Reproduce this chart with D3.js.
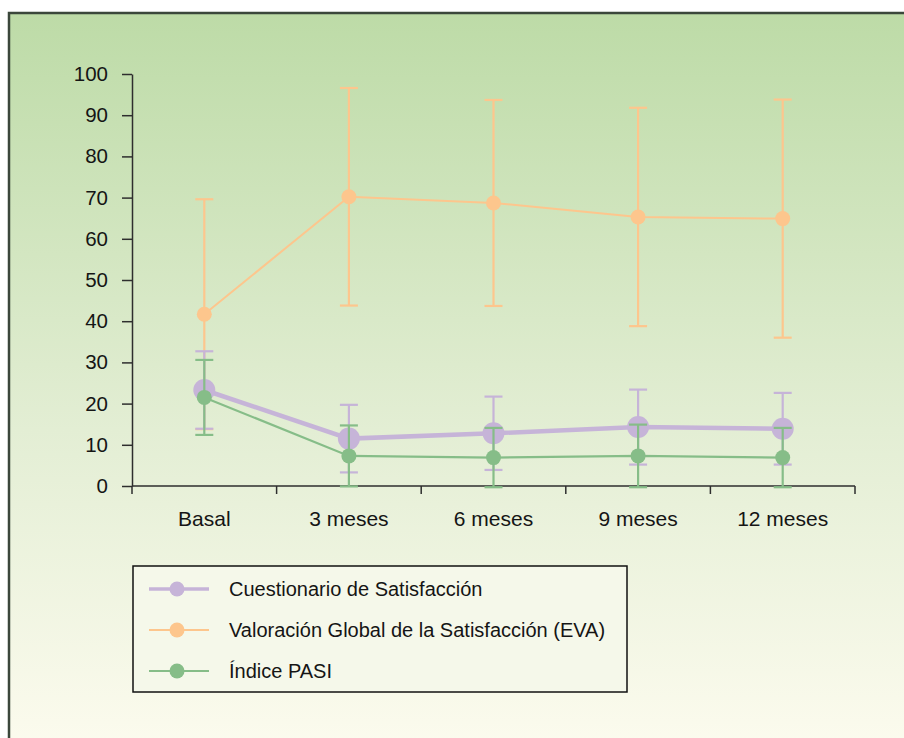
<!DOCTYPE html>
<html>
<head>
<meta charset="utf-8">
<script src="https://cdn.jsdelivr.net/npm/d3@7"></script>
<style>
  body { margin: 0; background: #fff; }
  text { font-family: "Liberation Sans", Arial, Helvetica, sans-serif; fill: #151515; }
</style>
</head>
<body>
<div id="chart"></div>
<script>
const categories = ["Basal", "3 meses", "6 meses", "9 meses", "12 meses"];
const yTicks = [0, 10, 20, 30, 40, 50, 60, 70, 80, 90, 100];

// mean and error (+/-) for each series
const cuestMean = [23.3, 11.5, 12.8, 14.3, 13.9];
const cuestErr  = [9.4, 8.2, 8.9, 9.1, 8.7];
const evaMean   = [41.7, 70.2, 68.7, 65.3, 64.9];
const evaErr    = [27.9, 26.4, 25.0, 26.5, 28.9];
const pasiMean  = [21.5, 7.3, 6.9, 7.3, 6.9];
const pasiErr   = [9.1, 7.4, 7.2, 7.6, 7.2];

const seriesNames = [
    "Cuestionario de Satisfacción",
    "Valoración Global de la Satisfacción (EVA)",
    "Índice PASI"
];

const W = 904, H = 738;
const margin = { top: 74, right: 49, bottom: 252, left: 132 };
const width = W - margin.left - margin.right;
const height = H - margin.top - margin.bottom;

var svg = d3.select("#chart")
    .append("svg")
    .attr("width", W)
    .attr("height", H);

// Background gradient
var grad = svg.append("defs").append("linearGradient")
    .attr("id", "bg")
    .attr("x1", 0).attr("y1", 0).attr("x2", 0).attr("y2", 1);
grad.append("stop").attr("offset", "0%").attr("stop-color", "#bddba7");
grad.append("stop").attr("offset", "55%").attr("stop-color", "#e3eed4");
grad.append("stop").attr("offset", "100%").attr("stop-color", "#fefcf0");

svg.append("rect")
    .attr("x", 9)
    .attr("y", 13)
    .attr("width", W + 20)
    .attr("height", H + 20)
    .attr("fill", "url(#bg)")
    .attr("stroke", "#3b473b")
    .attr("stroke-width", 2.5);

var g = svg.append("g")
    .attr("transform", `translate(${margin.left}, ${margin.top})`);

var xScale = d3.scaleBand()
    .domain(categories)
    .range([0, width])
    .padding(0);

var yScale = d3.scaleLinear()
    .domain([0, 100])
    .range([height, 0]);

// Y axis
var yAxis = g.append("g")
    .call(d3.axisLeft(yScale)
        .tickValues(yTicks)
        .tickSize(10)
        .tickSizeOuter(0)
        .tickPadding(14));
yAxis.selectAll("text").style("font-size", "20.5px").attr("fill", "#151515");
yAxis.selectAll("line, path").attr("stroke", "#2e2e2e").attr("stroke-width", 1.5);

// X axis: line, ticks at band boundaries, labels at centres
var xAxis = g.append("g")
    .attr("transform", `translate(0, ${height})`);
xAxis.append("line")
    .attr("x1", 0).attr("x2", width)
    .attr("stroke", "#2e2e2e").attr("stroke-width", 1.5);
var bounds = categories.map(c => xScale(c)).concat([width]);
xAxis.selectAll(".xtick")
    .data(bounds)
    .enter().append("line")
    .attr("class", "xtick")
    .attr("x1", d => d).attr("x2", d => d)
    .attr("y1", 0).attr("y2", 8)
    .attr("stroke", "#2e2e2e").attr("stroke-width", 1.5);
xAxis.selectAll(".xlabel")
    .data(categories)
    .enter().append("text")
    .attr("class", "xlabel")
    .attr("x", d => xScale(d) + xScale.bandwidth() / 2)
    .attr("y", 40)
    .attr("text-anchor", "middle")
    .style("font-size", "21px")
    .text(d => d);

const series = [
    { name: seriesNames[1], mean: evaMean, err: evaErr, color: "#fdc68d", lw: 2, r: 7.5 },
    { name: seriesNames[0], mean: cuestMean, err: cuestErr, color: "#c6b4d8", lw: 4.5, r: 11 },
    { name: seriesNames[2], mean: pasiMean, err: pasiErr, color: "#86bd88", lw: 2.2, r: 7.5 }
];

var cx = (i) => xScale(categories[i]) + xScale.bandwidth() / 2;

var line = d3.line()
    .x((d, i) => cx(i))
    .y(d => yScale(d));

series.forEach(function (s) {
    var sg = g.append("g");
    var rows = s.mean.map((m, i) => ({ i: i, m: m, e: s.err[i] }));

    // error bars
    sg.selectAll(".eb")
        .data(rows)
        .enter().append("line")
        .attr("x1", d => cx(d.i)).attr("x2", d => cx(d.i))
        .attr("y1", d => yScale(d.m - d.e))
        .attr("y2", d => yScale(d.m + d.e))
        .attr("stroke", s.color).attr("stroke-width", 2.2);
    ["top", "bot"].forEach(function (k) {
        sg.selectAll(".cap-" + k)
            .data(rows)
            .enter().append("line")
            .attr("x1", d => cx(d.i) - 9).attr("x2", d => cx(d.i) + 9)
            .attr("y1", d => yScale(k == "top" ? d.m + d.e : d.m - d.e))
            .attr("y2", d => yScale(k == "top" ? d.m + d.e : d.m - d.e))
            .attr("stroke", s.color).attr("stroke-width", 2.2);
    });

    sg.append("path")
        .datum(s.mean)
        .attr("fill", "none")
        .attr("stroke", s.color)
        .attr("stroke-width", s.lw)
        .attr("d", line);

    sg.selectAll(".pt")
        .data(rows)
        .enter().append("circle")
        .attr("cx", d => cx(d.i))
        .attr("cy", d => yScale(d.m))
        .attr("r", s.r)
        .attr("fill", s.color);
});

// Legend
var legend = svg.append("g").attr("transform", "translate(133, 566)");
legend.append("rect")
    .attr("width", 494)
    .attr("height", 126)
    .attr("fill", "#f5f8ea")
    .attr("stroke", "#111")
    .attr("stroke-width", 1.5);

const legendOrder = [series[1], series[0], series[2]];
legendOrder.forEach(function (s, i) {
    var ly = 23 + i * 41;
    legend.append("line")
        .attr("x1", 16).attr("x2", 76)
        .attr("y1", ly).attr("y2", ly)
        .attr("stroke", s.color)
        .attr("stroke-width", i == 0 ? 3.5 : 2);
    legend.append("circle")
        .attr("cx", 44).attr("cy", ly)
        .attr("r", 7.5)
        .attr("fill", s.color);
    legend.append("text")
        .attr("x", 96)
        .attr("y", ly + 7)
        .style("font-size", "20px")
        .text(s.name);
});
</script>
</body>
</html>
